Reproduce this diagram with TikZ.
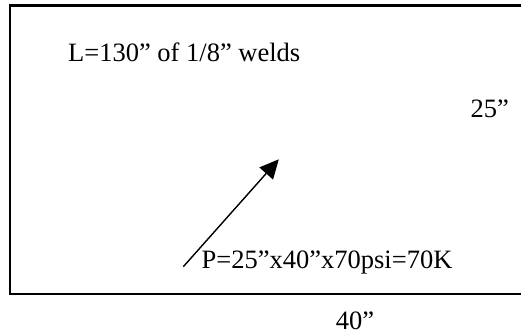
\documentclass[tikz,border=0pt]{standalone}
\usepackage{fontspec}
\setmainfont{Liberation Serif}
\usetikzlibrary{arrows.meta}
\begin{document}
\begin{tikzpicture}[x=1pt,y=-1pt,
  lbl/.style={inner sep=0pt,anchor=base west,font=\fontsize{26.5}{30}\selectfont},
  frame/.style={line width=2.2pt},
  force/.style={line width=1.4pt,-{Triangle[length=19pt,width=18pt]}}]
\useasboundingbox (0,0) rectangle (521,335);
\coordinate (tr) at (520.5,5.5);
\coordinate (tl) at (9.8,5.5);
\coordinate (bl) at (9.8,294);
\coordinate (br) at (520.5,294);
\draw[frame] (tr) -- (tl) -- (bl) -- (br);
\node[lbl] (weld) at (68,61) {L=130” of 1/8” welds};
\node[lbl] (h) at (470.5,117) {25”};
\node[lbl] (p) at (201.5,268.3) {P=25”x40”x70psi=70K};
\node[lbl] (w) at (335.7,329.3) {40”};
\coordinate (atail) at (183.3,266.7);
\coordinate (ahead) at (278.8,159.3);
\draw[force] (atail) -- (ahead);
\end{tikzpicture}
\end{document}
